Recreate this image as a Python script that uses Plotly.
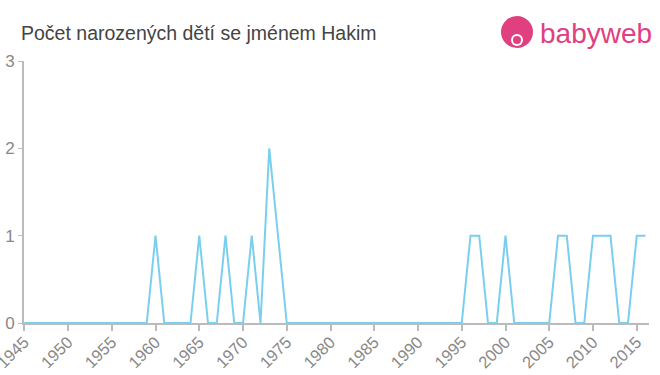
import plotly.graph_objects as go

years = list(range(1945, 2017))
counts_map = {1960: 1, 1965: 1, 1968: 1, 1971: 1, 1973: 2, 1974: 1,
              1996: 1, 1997: 1, 2000: 1, 2006: 1, 2007: 1,
              2010: 1, 2011: 1, 2012: 1, 2015: 1, 2016: 1}
counts = [counts_map.get(y, 0) for y in years]
tick_years = list(range(1945, 2016, 5))
tick_labels = [str(y) for y in tick_years]
title_text = "Počet narozených dětí se jménem Hakim"

fig = go.Figure()
fig.add_trace(go.Scatter(x=years, y=counts, mode="lines",
                         line=dict(color="#7acfee", width=2), hoverinfo="skip"))

fig.update_layout(
    width=660, height=375,
    margin=dict(l=24, r=11, t=61, b=52),
    paper_bgcolor="white", plot_bgcolor="white",
    showlegend=False,
    font=dict(family="Liberation Sans, Arial, sans-serif", color="#888"),
    xaxis=dict(range=[1944.97, 2016.4], tickvals=tick_years, ticktext=tick_labels,
               tickangle=-45, showgrid=False, zeroline=False, showline=True,
               linecolor="#bbb", linewidth=2, ticks="outside", tickcolor="#bbb",
               ticklen=6, tickwidth=2, tickfont=dict(size=16.5, color="#888"),
               ticklabelstandoff=-5,
               automargin=False, fixedrange=True, ticklabeloverflow="allow"),
    yaxis=dict(range=[0, 3], tickvals=[0, 1, 2, 3], showgrid=False, zeroline=False,
               showline=True, linecolor="#bbb", linewidth=2, ticks="outside",
               ticklen=4, tickwidth=1, tickcolor="#bbb",
               tickfont=dict(size=17, color="#888"), automargin=False, fixedrange=True),
)
pw = 660 - 24 - 11
ph = 375 - 61 - 52
def px(x):
    return (x - 24) / pw
def py(y):
    return (375 - 52 - y) / ph

fig.add_annotation(text=title_text, x=px(19), y=py(33), xref="paper", yref="paper",
                   showarrow=False, xanchor="left", yanchor="middle",
                   font=dict(size=19.5, color="#444"))
fig.add_annotation(text="babyweb", x=px(538), y=py(33), xref="paper", yref="paper",
                   showarrow=False, xanchor="left", yanchor="middle",
                   font=dict(size=28, color="#e0407f", family="Liberation Sans, Arial, sans-serif"))
fig.add_shape(type="circle", xref="paper", yref="paper",
              x0=px(501), x1=px(533), y0=py(48), y1=py(16),
              fillcolor="#e0407f", line=dict(width=0))
fig.add_shape(type="circle", xref="paper", yref="paper",
              x0=px(511), x1=px(523), y0=py(46), y1=py(34),
              fillcolor="white", line=dict(width=0))
fig.add_shape(type="circle", xref="paper", yref="paper",
              x0=px(513), x1=px(521), y0=py(44), y1=py(36),
              fillcolor="#e0407f", line=dict(width=0))

fig.write_html("out.html")
